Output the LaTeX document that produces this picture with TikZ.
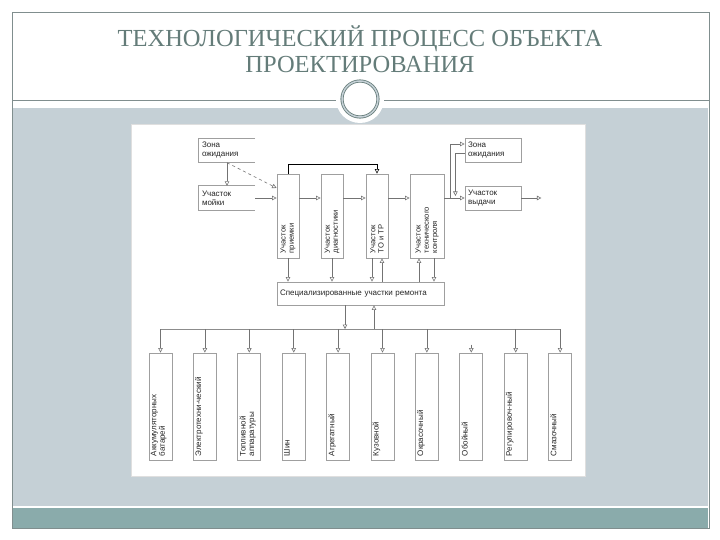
\documentclass[tikz,border=0pt]{standalone}
\usepackage{fontspec}
\setmainfont{Liberation Serif}
\newfontfamily\shemafont{Liberation Sans}
\usepackage{tikz}
\usetikzlibrary{arrows.meta, positioning}
\definecolor{Ramka}{RGB}{128, 142, 142}
\definecolor{Fon}{RGB}{197, 208, 214}
\definecolor{Polosa}{RGB}{138, 171, 171}
\definecolor{Titul}{RGB}{100, 124, 121}

\begin{document}
\begin{tikzpicture}[x=1pt, y=-1pt,
        hbox/.style={rectangle, minimum width=56pt, minimum height=24pt, inner sep=0pt, text width=50pt, align=left, font=\shemafont\fontsize{8}{9}\selectfont, text=black!85},
        vbox/.style={rectangle, draw=gray!75, thick, minimum width=22pt, minimum height=84pt, inner sep=0pt},
        rbox/.style={rectangle, draw=gray!75, thick, minimum width=23pt, minimum height=107pt, inner sep=0pt},
        vlabel/.style={rotate=90, anchor=west, align=left, inner sep=0pt, font=\shemafont\fontsize{7.6}{8.2}\selectfont, text=black!85},
        blabel/.style={rotate=90, anchor=north west, align=left, inner sep=1pt, font=\shemafont\fontsize{8}{8.6}\selectfont, text=black!85},
        edge/.style={draw=gray!75, thick},
        arrow/.style={->, >={Triangle[open, length=4.5pt, width=4.5pt]}, draw=black!55, line width=0.6pt}
    ]
        \useasboundingbox (0,0) rectangle (720,540);
        % ================= ФОН СЛАЙДА =================
        \fill[white] (0,0) rectangle (720,540);
        \fill[Fon] (13,108) rectangle (708,506);
        \fill[Polosa] (13,508) rectangle (708,528);
        \draw[Ramka, line width=0.8pt] (12,12) rectangle (709,528);
        \draw[Ramka, line width=1pt] (12,101) -- (709,101);
        \node[font=\fontsize{24.5}{26}\selectfont, text=Titul, align=center] (titul) at (360,49) {ТЕХНОЛОГИЧЕСКИЙ ПРОЦЕСС ОБЪЕКТА\\ПРОЕКТИРОВАНИЯ};
        \node[circle, fill=white, minimum size=48pt, inner sep=0pt] (ornament) at (360,99) {};
        \draw[Titul, line width=0.8pt, double=Fon, double distance=1.5pt] (ornament.center) circle (18);
        \draw[fill=white, draw=gray!25] (131,124) rectangle (585,476);

        % ================= ВХОД: ОЖИДАНИЕ И МОЙКА =================
        \node[hbox] (zona1) at (227,150.5) {Зона\\ожидания};
        \node[hbox] (moika) at (227,198) {Участок\\мойки};
        \draw[edge] (zona1.north east) -- (zona1.north west) -- (zona1.south west) -- (zona1.south east);
        \draw[edge] (moika.north east) -- (moika.north west) -- (moika.south west) -- (moika.south east);

        % ================= ОСНОВНЫЕ УЧАСТКИ =================
        \node[vbox] (priemka) at (288,216) {};
        \node[vbox] (diagn) at (332,216) {};
        \node[vbox] (totr) at (377,216) {};
        \node[vbox, minimum width=34pt] (kontrol) at (427,216) {};
        \node[vlabel] (priemka-t) at ([yshift=5pt]priemka.south) {Участок\\приемки};
        \node[vlabel] (diagn-t) at ([yshift=5pt]diagn.south) {Участок\\диагностики};
        \node[vlabel] (totr-t) at ([yshift=5pt]totr.south) {Участок\\ТО и ТР};
        \node[vlabel] (kontrol-t) at ([yshift=5pt]kontrol.south) {Участок\\технического\\контроля};

        \draw[arrow] (zona1.south) -- (moika.north);
        \draw[arrow, dashed] (zona1.south) -- ([yshift=28pt]priemka.west);
        \draw[arrow] (moika.east) -- (moika.east -| priemka.west);
        \draw[arrow] ([yshift=18pt]priemka.east) -- ([yshift=18pt]diagn.west);
        \draw[arrow] ([yshift=18pt]diagn.east) -- ([yshift=18pt]totr.west);
        \draw[arrow] ([yshift=18pt]totr.east) -- ([yshift=18pt]kontrol.west);
        \draw[arrow, draw=black] (priemka.north) -- ++(0,-9) -| (totr.north);

        % ================= ВЫХОД: ОЖИДАНИЕ И ВЫДАЧА =================
        \node[hbox, draw=gray!75, thick] (zona2) at (493,150.5) {Зона\\ожидания};
        \node[hbox, draw=gray!75, thick] (vydacha) at (493,198) {Участок\\выдачи};
        \coordinate (uzel1) at ([xshift=6pt]kontrol.east |- vydacha.west);
        \coordinate (uzel2) at ([xshift=11pt]kontrol.east |- vydacha.west);
        \coordinate (vyhod) at ([xshift=20pt]vydacha.east);

        \draw[arrow] (kontrol.east |- vydacha.west) -- (vydacha.west);
        \draw[arrow] (uzel1) |- ([yshift=6.5pt]zona2.west);
        \draw[arrow] ([yshift=-2.5pt]zona2.west) -| ([yshift=2pt]uzel2);
        \draw[arrow] (vydacha.east) -- (vyhod);

        % ================= СПЕЦИАЛИЗИРОВАННЫЕ УЧАСТКИ =================
        \node[rectangle, draw=gray!75, thick, minimum width=167pt, minimum height=23pt, inner sep=0pt, text width=161pt, align=left, font=\shemafont\fontsize{8}{9}\selectfont, text=black!85] (spec) at (360.5,293.5) {Специализированные участки ремонта};

        \draw[arrow] (priemka.south) -- (priemka.south |- spec.north);
        \draw[arrow] (diagn.south) -- (diagn.south |- spec.north);
        \draw[arrow] ([xshift=-5pt]totr.south) -- ([xshift=-5pt]totr.south |- spec.north);
        \draw[arrow] ([xshift=5pt]totr.south |- spec.north) -- ([xshift=5pt]totr.south);
        \draw[arrow] ([xshift=-8pt]kontrol.south |- spec.north) -- ([xshift=-8pt]kontrol.south);
        \draw[arrow] ([xshift=7pt]kontrol.south) -- ([xshift=7pt]kontrol.south |- spec.north);

        % Шина распределения
        \coordinate (bus-l) at (160.5,329);
        \coordinate (bus-r) at (560,329);
        \draw[draw=black!45, line width=0.6pt] (bus-l) -- (bus-r);
        \draw[arrow] ([xshift=-15.5pt]spec.south) -- ([xshift=-15.5pt]spec.south |- bus-l);
        \draw[arrow] ([xshift=13.5pt]spec.south |- bus-l) -- ([xshift=13.5pt]spec.south);

        \foreach \imya/\nadpis [count=\i from 0] in {akb/{Аккумуляторных\\батарей}, elektro/{Электротехни-ческий}, toplivo/{Топливной\\аппаратуры}, shiny/{Шин}, agregat/{Агрегатный}, kuzov/{Кузовной}, okras/{Окрасочный}, oboi/{Обойный}, regul/{Регулировоч-ный}, smaz/{Смазочный}} {
            \node[rbox] (\imya) at (160.5+44.4*\i, 406.5) {};
            \node[blabel] (\imya-t) at ([xshift=1pt, yshift=3pt]\imya.south west) {\nadpis};
            \ifnum\i=7
                \draw[arrow] ([yshift=8pt]\imya.north) -- (\imya.north);
            \else
                \draw[arrow] (\imya.north |- bus-l) -- (\imya.north);
            \fi
        }
    \end{tikzpicture}
\end{document}
